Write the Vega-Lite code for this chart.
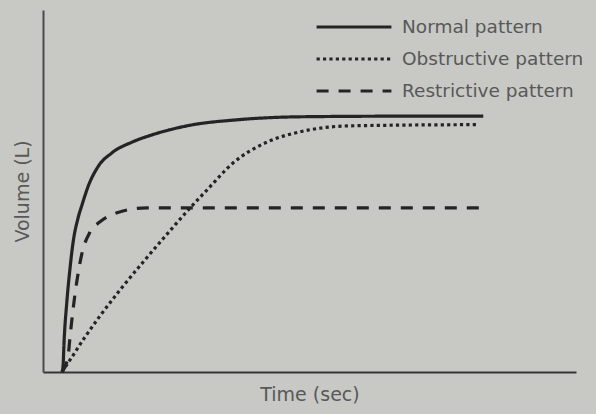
{
  "$schema": "https://vega.github.io/schema/vega-lite/v6.json",
  "width": 533,
  "height": 362,
  "autosize": {"type": "none"},
  "padding": {"left": 43, "top": 10, "right": 20, "bottom": 42},
  "background": "#c8c9c5",
  "config": {
    "view": {"stroke": null},
    "font": "DejaVu Sans"
  },
  "data": {
    "values": [
      {"pattern": "Normal pattern", "t": 0.356, "v": 0.0},
      {"pattern": "Normal pattern", "t": 0.375, "v": 0.08},
      {"pattern": "Normal pattern", "t": 0.394, "v": 0.48},
      {"pattern": "Normal pattern", "t": 0.45, "v": 1.19},
      {"pattern": "Normal pattern", "t": 0.507, "v": 1.72},
      {"pattern": "Normal pattern", "t": 0.563, "v": 2.14},
      {"pattern": "Normal pattern", "t": 0.657, "v": 2.55},
      {"pattern": "Normal pattern", "t": 0.732, "v": 2.77},
      {"pattern": "Normal pattern", "t": 0.844, "v": 3.07},
      {"pattern": "Normal pattern", "t": 1.03, "v": 3.4},
      {"pattern": "Normal pattern", "t": 1.29, "v": 3.63},
      {"pattern": "Normal pattern", "t": 1.67, "v": 3.81},
      {"pattern": "Normal pattern", "t": 2.045, "v": 3.93},
      {"pattern": "Normal pattern", "t": 2.76, "v": 4.09},
      {"pattern": "Normal pattern", "t": 3.64, "v": 4.18},
      {"pattern": "Normal pattern", "t": 4.82, "v": 4.23},
      {"pattern": "Normal pattern", "t": 6.7, "v": 4.24},
      {"pattern": "Normal pattern", "t": 8.26, "v": 4.24},
      {"pattern": "Obstructive pattern", "t": 0.356, "v": 0.0},
      {"pattern": "Obstructive pattern", "t": 0.507, "v": 0.2},
      {"pattern": "Obstructive pattern", "t": 0.788, "v": 0.58},
      {"pattern": "Obstructive pattern", "t": 1.07, "v": 0.93},
      {"pattern": "Obstructive pattern", "t": 1.445, "v": 1.36},
      {"pattern": "Obstructive pattern", "t": 1.876, "v": 1.82},
      {"pattern": "Obstructive pattern", "t": 2.44, "v": 2.4},
      {"pattern": "Obstructive pattern", "t": 2.76, "v": 2.72},
      {"pattern": "Obstructive pattern", "t": 3.08, "v": 3.02},
      {"pattern": "Obstructive pattern", "t": 3.56, "v": 3.46},
      {"pattern": "Obstructive pattern", "t": 4.2, "v": 3.81},
      {"pattern": "Obstructive pattern", "t": 4.82, "v": 3.98},
      {"pattern": "Obstructive pattern", "t": 5.76, "v": 4.08},
      {"pattern": "Obstructive pattern", "t": 8.14, "v": 4.1},
      {"pattern": "Restrictive pattern", "t": 0.356, "v": 0.0},
      {"pattern": "Restrictive pattern", "t": 0.469, "v": 0.25},
      {"pattern": "Restrictive pattern", "t": 0.507, "v": 0.58},
      {"pattern": "Restrictive pattern", "t": 0.563, "v": 1.03},
      {"pattern": "Restrictive pattern", "t": 0.638, "v": 1.52},
      {"pattern": "Restrictive pattern", "t": 0.732, "v": 1.97},
      {"pattern": "Restrictive pattern", "t": 0.882, "v": 2.32},
      {"pattern": "Restrictive pattern", "t": 1.07, "v": 2.49},
      {"pattern": "Restrictive pattern", "t": 1.39, "v": 2.64},
      {"pattern": "Restrictive pattern", "t": 1.95, "v": 2.72},
      {"pattern": "Restrictive pattern", "t": 3.7, "v": 2.72},
      {"pattern": "Restrictive pattern", "t": 8.24, "v": 2.72}
    ]
  },
  "mark": {"type": "line", "interpolate": "monotone", "color": "#242424", "strokeWidth": 3.2},
  "encoding": {
    "x": {
      "field": "t", "type": "quantitative",
      "scale": {"domain": [0, 10], "nice": false, "zero": true},
      "axis": {"title": "Time (sec)", "ticks": false, "labels": false, "grid": false,
               "domainColor": "#363636", "domainWidth": 2, "titleFontSize": 19,
               "titleFontWeight": "normal", "titleColor": "#585858", "titlePadding": 13}
    },
    "y": {
      "field": "v", "type": "quantitative",
      "scale": {"domain": [0, 6], "nice": false},
      "axis": {"title": "Volume (L)", "ticks": false, "labels": false, "grid": false,
               "domainColor": "#4a4a4a", "domainWidth": 2, "titleFontSize": 19,
               "titleFontWeight": "normal", "titleColor": "#585858", "titlePadding": 11}
    },
    "strokeDash": {
      "field": "pattern", "type": "nominal",
      "scale": {
        "domain": ["Normal pattern", "Obstructive pattern", "Restrictive pattern"],
        "range": [[1, 0], [3.2, 3.2], [12, 10]]
      },
      "legend": {
        "title": null,
        "orient": "none",
        "legendX": 272,
        "legendY": 7,
        "padding": 0,
        "symbolType": "stroke",
        "symbolSize": 5600,
        "symbolStrokeWidth": 3,
        "symbolStrokeColor": "#242424",
        "labelFontSize": 18.5,
        "labelColor": "#585858",
        "labelOffset": 9,
        "labelLimit": 300,
        "clipHeight": 20,
        "rowPadding": 12
      }
    }
  }
}
